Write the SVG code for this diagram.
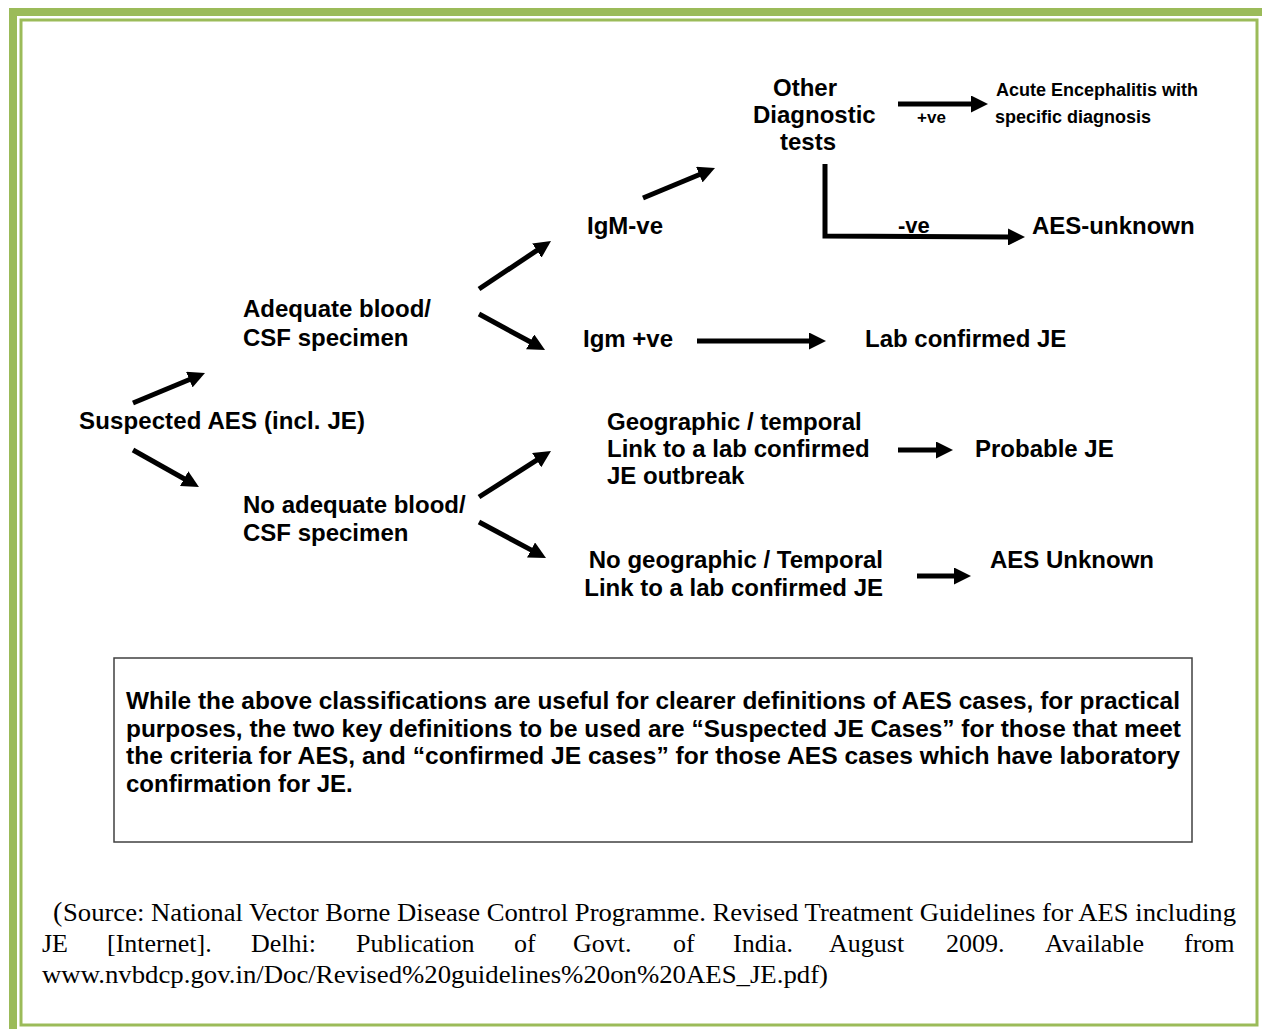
<svg xmlns="http://www.w3.org/2000/svg" width="1262" height="1029" viewBox="0 0 1262 1029">
<style>
.t{font-family:"Liberation Sans",Arial,sans-serif;font-weight:bold;font-size:24px;fill:#000}
.s{font-family:"Liberation Serif","Times New Roman",serif;font-size:26px;fill:#000}
.c{fill:none;stroke:#000;stroke-width:5}
</style>
<defs>
<marker id="ah" markerUnits="userSpaceOnUse" markerWidth="17" markerHeight="17" viewBox="0 0 17 17" refX="1" refY="8.5" orient="auto">
<path d="M0,0 L17,8.5 L0,17 z" fill="#000"/>
</marker>
</defs>
<rect width="1262" height="1029" fill="#fff"/>
<g id="border">
<rect x="9" y="8" width="1253" height="8" fill="#9bbb59"/>
<rect x="9" y="8" width="8" height="1021" fill="#9bbb59"/>
<rect x="21" y="20" width="1236" height="1005" fill="none" stroke="#9bbb59" stroke-width="3"/>
</g>
<g id="connectors">
<path class="c" marker-end="url(#ah)" d="M133,403 L190.2,379.2"/>
<path class="c" marker-end="url(#ah)" d="M133,450 L185,479.2"/>
<path class="c" marker-end="url(#ah)" d="M479,289 L537.7,249.9"/>
<path class="c" marker-end="url(#ah)" d="M479,314 L531,342.3"/>
<path class="c" marker-end="url(#ah)" d="M643,198 L700.2,174.2"/>
<path class="c" marker-end="url(#ah)" d="M479,497 L537.5,459.6"/>
<path class="c" marker-end="url(#ah)" d="M479,522 L531.9,550.4"/>
<path class="c" marker-end="url(#ah)" d="M697,341 L810,341"/>
<path class="c" marker-end="url(#ah)" d="M898,104 L972,104"/>
<path class="c" marker-end="url(#ah)" d="M825,164 L825,236 L1009,237"/>
<path class="c" marker-end="url(#ah)" d="M898,450 L937,450"/>
<path class="c" marker-end="url(#ah)" d="M917,576 L955,576"/>
</g>
<g id="n-suspected"><text class="t" x="79" y="429" textLength="286" lengthAdjust="spacing">Suspected AES (incl. JE)</text></g>
<g id="n-adequate"><text class="t" x="243" y="317">Adequate blood/</text><text class="t" x="243" y="346">CSF specimen</text></g>
<g id="n-noadequate"><text class="t" x="243" y="513">No adequate blood/</text><text class="t" x="243" y="541">CSF specimen</text></g>
<g id="n-igmneg"><text class="t" x="587" y="234">IgM-ve</text></g>
<g id="n-igmpos"><text class="t" x="583" y="347">Igm +ve</text></g>
<g id="n-labje"><text class="t" x="865" y="347">Lab confirmed JE</text></g>
<g id="n-other"><text class="t" x="773" y="96">Other</text><text class="t" x="753" y="123">Diagnostic</text><text class="t" x="780" y="150">tests</text></g>
<g id="n-acute"><text class="t" style="font-size:18px" x="996" y="96">Acute Encephalitis with</text><text class="t" style="font-size:18px" x="995" y="123">specific diagnosis</text></g>
<g id="l-pos"><text class="t" style="font-size:17px" x="917" y="123">+ve</text></g>
<g id="l-neg"><text class="t" style="font-size:22px" x="898" y="233">-ve</text></g>
<g id="n-aesunknown1"><text class="t" x="1032" y="234">AES-unknown</text></g>
<g id="n-geo"><text class="t" x="607" y="430">Geographic / temporal</text><text class="t" x="607" y="457">Link to a lab confirmed</text><text class="t" x="607" y="484">JE outbreak</text></g>
<g id="n-probable"><text class="t" x="975" y="457">Probable JE</text></g>
<g id="n-nogeo"><text class="t" x="883" y="568" text-anchor="end">No geographic / Temporal</text><text class="t" x="883" y="596" text-anchor="end">Link to a lab confirmed JE</text></g>
<g id="n-aesunknown2"><text class="t" x="990" y="568">AES Unknown</text></g>
<g id="note">
<rect x="114" y="658" width="1078" height="184" fill="none" stroke="#404040" stroke-width="1.5"/>
<text class="t" x="126" y="709" textLength="1054" lengthAdjust="spacingAndGlyphs">While the above classifications are useful for clearer definitions of AES cases, for practical</text>
<text class="t" x="126" y="737" textLength="1055" lengthAdjust="spacingAndGlyphs">purposes, the two key definitions to be used are “Suspected JE Cases” for those that meet</text>
<text class="t" x="126" y="764" textLength="1054" lengthAdjust="spacingAndGlyphs">the criteria for AES, and “confirmed JE cases” for those AES cases which have laboratory</text>
<text class="t" x="126" y="792">confirmation for JE.</text>
</g>
<g id="source">
<text class="s" x="53" y="921"><tspan style="font-size:28px">(</tspan><tspan x="63" textLength="1173" lengthAdjust="spacingAndGlyphs">Source: National Vector Borne Disease Control Programme. Revised Treatment Guidelines for AES including</tspan></text>
<text class="s" y="952"><tspan x="42">JE</tspan><tspan x="107">[Internet].</tspan><tspan x="251">Delhi:</tspan><tspan x="356">Publication</tspan><tspan x="514">of</tspan><tspan x="573">Govt.</tspan><tspan x="673">of</tspan><tspan x="733">India.</tspan><tspan x="829">August</tspan><tspan x="946">2009.</tspan><tspan x="1045">Available</tspan><tspan x="1184">from</tspan></text>
<text class="s" x="42" y="983" textLength="786" lengthAdjust="spacingAndGlyphs">www.nvbdcp.gov.in/Doc/Revised%20guidelines%20on%20AES_JE.pdf)</text>
</g>
</svg>
